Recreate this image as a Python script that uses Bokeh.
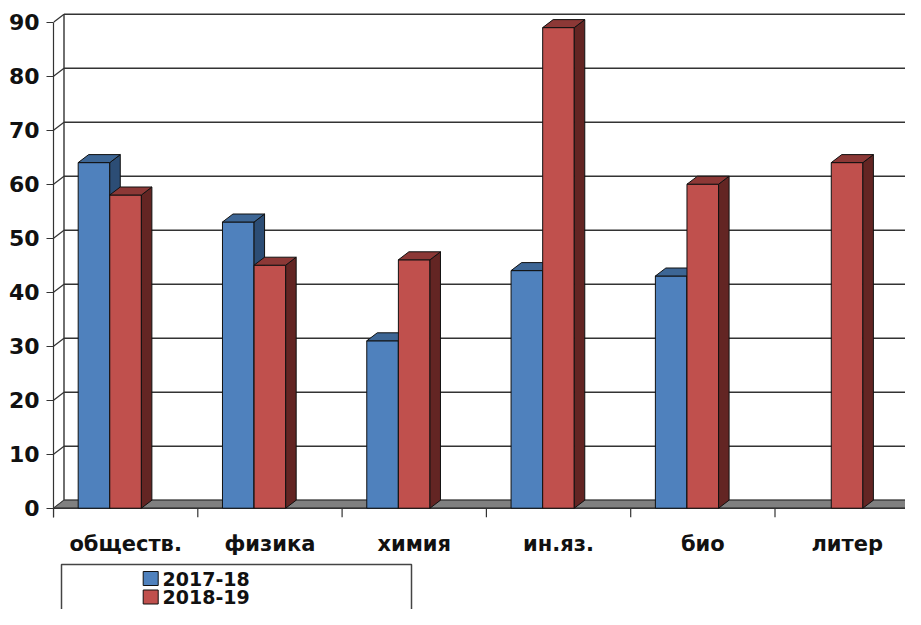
from bokeh.plotting import figure
from bokeh.models import Range1d, FixedTicker
from bokeh.core.properties import value
from bokeh.embed import file_html
from bokeh.resources import INLINE

# ---------------- data ----------------
categories = ["обществ.", "физика", "химия", "ин.яз.", "био", "литер"]
series_names = ["2017-18", "2018-19"]
values_2017_18 = [64, 53, 31, 44, 43, None]
values_2018_19 = [58, 45, 46, 89, 60, 64]
y_ticks = [0, 10, 20, 30, 40, 50, 60, 70, 80, 90]

# ---------------- geometry / style ----------------
W, H = 905, 609
LEFT = 53                 # left panel (axis) width in px
PX_X = 144.3              # px per category
ORIGIN_Y = 507.7          # px (from top) of value 0
PX_Y = (507.7 - 21.7) / 90.0   # px per value unit
FRAME_W = W - LEFT

x_start = 0.0
x_end = FRAME_W / PX_X
y_end = ORIGIN_Y / PX_Y
y_start = -(H - ORIGIN_Y) / PX_Y

DX = 10.5 / PX_X          # depth offset (x)
DY = 8.0 / PX_Y           # depth offset (y)
FAR = 7.0                 # beyond right edge


def fx(px):
    """pixel x -> data x"""
    return (px - LEFT) / PX_X


def fy(py):
    """pixel y -> data y"""
    return (ORIGIN_Y - py) / PX_Y


FONT = "DejaVu Sans"
LINE = "#333333"

bar_w = 0.219
bar_offsets = [0.171, 0.390]
front_colors = ["#4F81BD", "#C0504D"]
side_colors = ["#2C4D75", "#632523"]
top_colors = ["#3D6695", "#8C3836"]

p = figure(width=W, height=H, output_backend="svg", toolbar_location=None,
           x_range=Range1d(x_start, x_end), y_range=Range1d(y_start, y_end),
           min_border_left=LEFT, min_border_right=0, min_border_top=0,
           min_border_bottom=0)
p.outline_line_color = None
p.grid.visible = False
p.xaxis.visible = False
p.background_fill_color = "white"
p.border_fill_color = "white"

# left (front) value axis
ya = p.yaxis[0]
ya.ticker = FixedTicker(ticks=y_ticks)
ya.bounds = (-9.0 / PX_Y, max(y_ticks))
ya.axis_line_color = LINE
ya.axis_line_width = 1.2
ya.major_tick_line_color = LINE
ya.major_tick_line_width = 1.2
ya.major_tick_out = 7
ya.major_tick_in = 0
ya.minor_tick_out = 0
ya.minor_tick_in = 0
ya.major_label_standoff = 7
ya.major_label_text_font = FONT
ya.major_label_text_font_style = "bold"
ya.major_label_text_font_size = "22px"
ya.major_label_text_color = "#111111"

# back wall: gridlines, left wall edge, diagonals to front ticks
ymax = max(y_ticks)
p.segment(x0=[DX] * len(y_ticks), y0=[t + DY for t in y_ticks],
          x1=[FAR] * len(y_ticks), y1=[t + DY for t in y_ticks],
          line_color=LINE, line_width=1.6)
p.segment(x0=[0] * len(y_ticks), y0=y_ticks,
          x1=[DX] * len(y_ticks), y1=[t + DY for t in y_ticks],
          line_color=LINE, line_width=1.2)
p.segment(x0=[DX], y0=[DY], x1=[DX], y1=[ymax + DY],
          line_color=LINE, line_width=1.4)

# floor
p.patch(x=[0, FAR, FAR + DX, DX], y=[0, 0, DY, DY],
        fill_color="#808080", line_color="#404040", line_width=1)

# x axis line along the front edge + category boundary ticks
n = len(categories)
p.segment(x0=[0], y0=[0], x1=[FAR], y1=[0], line_color=LINE, line_width=1.4)
p.segment(x0=list(range(n + 1)), y0=[0] * (n + 1),
          x1=list(range(n + 1)), y1=[-9.0 / PX_Y] * (n + 1),
          line_color=LINE, line_width=1.2)

# 3D bars
for s, vals in enumerate([values_2017_18, values_2018_19]):
    lefts, rights, tops = [], [], []
    side_xs, side_ys, top_xs, top_ys = [], [], [], []
    for i, v in enumerate(vals):
        if v is None:
            continue
        l = i + bar_offsets[s]
        r = l + bar_w
        lefts.append(l)
        rights.append(r)
        tops.append(v)
        side_xs.append([r, r + DX, r + DX, r])
        side_ys.append([0, DY, v + DY, v])
        top_xs.append([l, r, r + DX, l + DX])
        top_ys.append([v, v, v + DY, v + DY])
    p.quad(left=lefts, right=rights, bottom=[0] * len(tops), top=tops,
           fill_color=front_colors[s], line_color="#111111", line_width=1)
    p.patches(xs=side_xs, ys=side_ys, fill_color=side_colors[s],
              line_color="#111111", line_width=1)
    p.patches(xs=top_xs, ys=top_ys, fill_color=top_colors[s],
              line_color="#111111", line_width=1)

# category labels
p.text(x=[i + 0.5 for i in range(n)], y=[0] * n, text=categories,
       y_offset=36, text_align="center", text_baseline="middle",
       text_font=value(FONT), text_font_style="bold",
       text_font_size="21px", text_color="#111111")

# legend (box + swatches + labels), kept inside the visible area
p.quad(left=[fx(61)], right=[fx(411)], top=[fy(564)], bottom=[fy(660)],
       fill_color="white", line_color="#444444", line_width=1.5)
entry_centers = [578.0, 596.5]
p.quad(left=[fx(142.7)] * 2, right=[fx(157.7)] * 2,
       top=[fy(c - 7) for c in entry_centers],
       bottom=[fy(c + 7) for c in entry_centers],
       fill_color=front_colors, line_color="#111111", line_width=1)
p.text(x=[fx(162)] * 2, y=[fy(c) for c in entry_centers], text=series_names,
       text_align="left", text_baseline="middle",
       text_font=value(FONT), text_font_style="bold",
       text_font_size="19px", text_color="#111111")

open("out.html", "w").write(file_html(p, INLINE))
